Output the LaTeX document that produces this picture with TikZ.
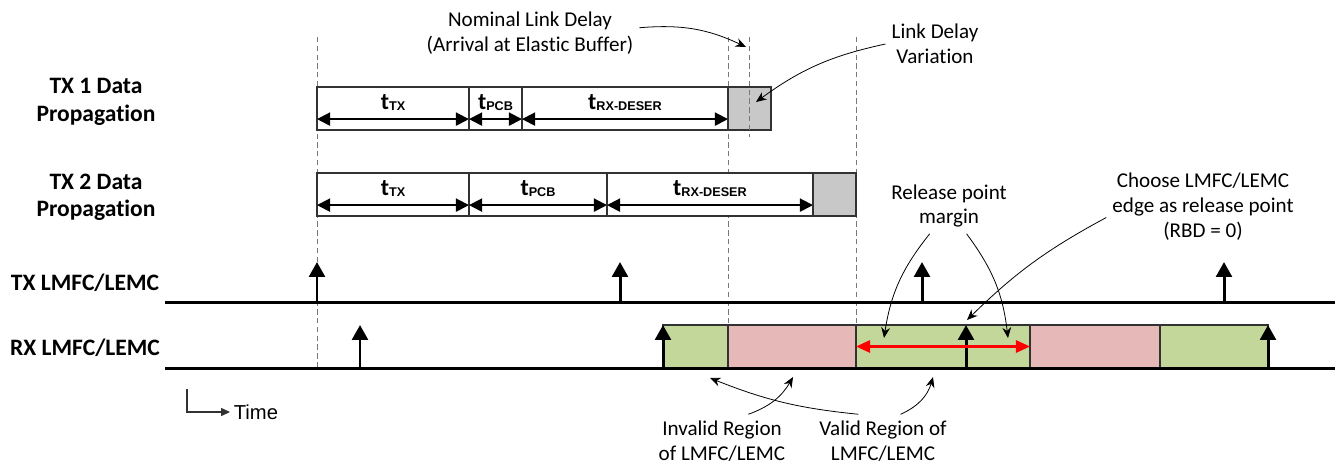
\documentclass[tikz,border=0pt]{standalone}
\usepackage{fontspec}
\setmainfont[Ligatures=NoCommon]{Carlito}
\newfontfamily\arialfont{Liberation Sans}
\usetikzlibrary{arrows.meta,positioning}

\definecolor{validgreen}{RGB}{196,215,155}
\definecolor{invalidred}{RGB}{230,185,184}
\definecolor{delaygray}{RGB}{200,200,200}
\definecolor{guidegray}{RGB}{120,120,120}
\definecolor{edgegray}{RGB}{50,50,50}

\newcommand{\tsub}[1]{{\bfseries\fontsize{13.5}{15}\selectfont t}\raisebox{-0.4pt}{\arialfont\bfseries\fontsize{7.2}{8}\selectfont #1}}

\tikzset{
  rowlabel/.style={font=\bfseries\fontsize{13.4}{15.6}\selectfont, align=center},
  note/.style={font=\fontsize{12}{14.2}\selectfont, align=center},
  segbox/.style={draw=edgegray, line width=0.6pt, fill=white, inner sep=0pt, outer sep=0pt, minimum height=0.86cm},
  span/.style={{Triangle[length=7.5pt,width=7.5pt]}-{Triangle[length=7.5pt,width=7.5pt]}, line width=1.1pt},
  guide/.style={draw=guidegray, line width=0.5pt, dash pattern=on 3pt off 2pt},
  clockline/.style={line width=1.7pt},
  pulse/.style={-{Triangle[length=8.5pt,width=9pt]}, line width=1.7pt},
  pointer/.style={-{Stealth[length=6pt,width=5pt]}, line width=0.45pt},
  marginspan/.style={red, line width=1.2pt, {Triangle[length=8pt,width=7pt]}-{Triangle[length=8pt,width=7pt]}},
  timeaxis/.style={draw=edgegray, line width=0.6pt, -{Triangle[length=5pt,width=4.5pt]}},
}

\begin{document}
\begin{tikzpicture}[x=0.02cm, y=-0.02cm]
\useasboundingbox (0,0) rectangle (1335,464);

% Row labels
\node[rowlabel] (tx1lbl) at (96,102) {TX 1 Data\\Propagation};
\node[rowlabel] (tx2lbl) at (96,197) {TX 2 Data\\Propagation};
\node[rowlabel] (txclk) at (85,283) {TX LMFC/LEMC};
\node[rowlabel] (rxclk) at (85,348) {RX LMFC/LEMC};

% Guide lines
\draw[guide] (317,37) -- (317,368);
\draw[guide] (728,37) -- (728,325);
\draw[guide] (856,37) -- (856,325);

% TX 1 data propagation
\foreach \xa/\xb/\lbl [count=\i] in {317/469/TX, 469/522/PCB, 522/728/RX-DESER} {
  \node[segbox, minimum width={(\xb-\xa)*0.02cm}, anchor=north west] (da\i) at (\xa,87) {};
  \node[below=1pt of da\i.north] {\tsub{\lbl}};
  \draw[span] ([yshift=6.2pt]da\i.south west) -- ([yshift=6.2pt]da\i.south east);
}
\node[segbox, fill=delaygray, minimum width=0.86cm, anchor=north west] (dag) at (728,87) {};
\draw[guide] (749,37) -- (749,137);

% TX 2 data propagation
\foreach \xa/\xb/\lbl [count=\i] in {317/469/TX, 469/607/PCB, 607/813/RX-DESER} {
  \node[segbox, minimum width={(\xb-\xa)*0.02cm}, anchor=north west] (db\i) at (\xa,173) {};
  \node[below=1pt of db\i.north] {\tsub{\lbl}};
  \draw[span] ([yshift=6.2pt]db\i.south west) -- ([yshift=6.2pt]db\i.south east);
}
\node[segbox, fill=delaygray, minimum width=0.86cm, anchor=north west] (dbg) at (813,173) {};

% RX regions
\foreach \xa/\xb/\col [count=\i] in {663/728/validgreen, 728/856/invalidred, 856/1030/validgreen, 1030/1160/invalidred, 1160/1268/validgreen} {
  \node[segbox, fill=\col, minimum width={(\xb-\xa)*0.02cm}, anchor=north west] (rx\i) at (\xa,325) {};
}

% Clock lines
\draw[clockline] (165,302) -- (1335,302);
\draw[clockline] (165,368) -- (1335,368);

\foreach \x [count=\i] in {317,620,922,1224} {
  \coordinate (txe\i) at (\x,302);
  \draw[pulse] (txe\i) -- ++(0,-40);
}
\foreach \x [count=\i] in {360,663,966,1268} {
  \coordinate (rxe\i) at (\x,368);
  \draw[pulse] (rxe\i) -- ++(0,-43);
}

% Release point margin
\draw[marginspan] (rx3.west) -- (rx3.east);

% Notes
\node[note] (nominal) at (530,33) {Nominal Link Delay\\(Arrival at Elastic Buffer)};
\node[note] (ldv) at (935,44) {Link Delay\\Variation};
\node[note] (rpm) at (949,206) {Release point\\margin};
\node[note] (choose) at (1203,207) {Choose LMFC/LEMC\\edge as release point\\(RBD = 0)};
\node[note, inner sep=0.5pt] (invalid) at (722,441) {Invalid Region\\of LMFC/LEMC};
\node[note, inner sep=0.5pt] (valid) at (883,441) {Valid Region of\\LMFC/LEMC};

\coordinate (nomtip) at (746,47);
\coordinate (ldvtip) at (756,102);
\coordinate (rpmL) at (884,338);
\coordinate (rpmR) at (1008,338);
\coordinate (choosetip) at (967,320);
\coordinate (invtip) at (793,377);
\coordinate (valtipA) at (710,378);
\coordinate (valtipB) at (933,377);

\draw[pointer] ([yshift=3pt]nominal.east) to[bend left=15] (nomtip);
\draw[pointer] (ldv.west) to[bend right=12] (ldvtip);
\draw[pointer] ([xshift=-11pt]rpm.south) to[bend right=15] (rpmL);
\draw[pointer] ([xshift=10pt]rpm.south) to[bend left=15] (rpmR);
\draw[pointer] ([yshift=-6pt]choose.west) to[bend right=8] (choosetip);
\draw[pointer] ([xshift=15pt,yshift=3pt]invalid.north) to[bend right=20] (invtip);
\draw[pointer] ([xshift=-14pt,yshift=3pt]valid.north) to[bend left=8] (valtipA);
\draw[pointer] ([xshift=10pt,yshift=3pt]valid.north) to[bend right=25] (valtipB);

% Time legend
\node[font=\arialfont\fontsize{11.5}{13}\selectfont, anchor=west, inner sep=2pt] (timelbl) at (230,412) {Time};
\coordinate (torigin) at (187,389);
\draw[timeaxis] (torigin) |- (timelbl.west);

\end{tikzpicture}
\end{document}
